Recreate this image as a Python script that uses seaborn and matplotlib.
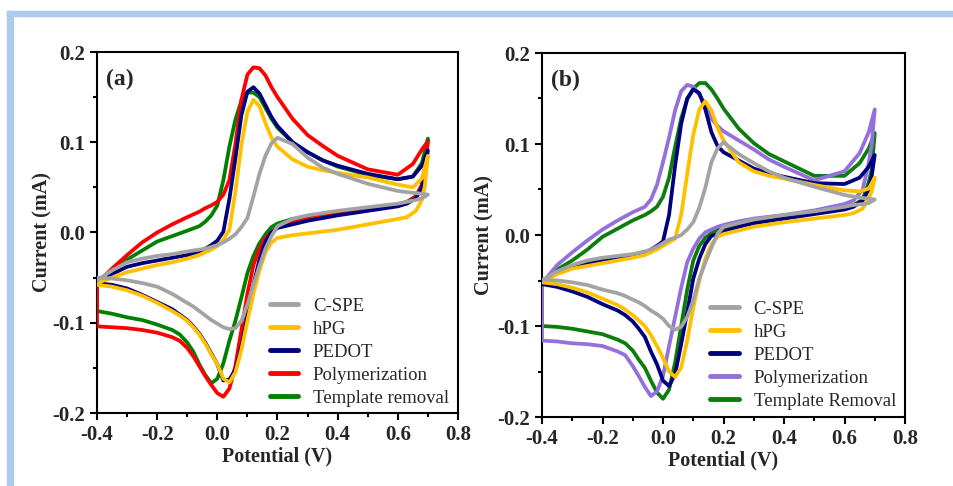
import matplotlib
matplotlib.use("Agg")
import matplotlib.pyplot as plt
from matplotlib.patches import Rectangle
from matplotlib.ticker import MultipleLocator, FormatStrFormatter
import pandas as pd
import seaborn as sns

# potential grid (V): forward scan, then reverse scan
E_FWD = [-0.4, -0.35, -0.3, -0.25, -0.2, -0.15, -0.1, -0.06, -0.04, -0.02,
         0.0, 0.02, 0.04, 0.06, 0.08, 0.1, 0.12, 0.14, 0.16, 0.18,
         0.2, 0.25, 0.3, 0.35, 0.4, 0.5, 0.6, 0.65, 0.68, 0.7]
E_REV = [0.7, 0.69, 0.68, 0.66, 0.63, 0.6, 0.5, 0.4, 0.3, 0.25,
         0.2, 0.18, 0.16, 0.14, 0.12, 0.1, 0.08, 0.06, 0.04, 0.02,
         0.0, -0.02, -0.04, -0.06, -0.08, -0.1, -0.125, -0.15, -0.2, -0.25,
         -0.3, -0.35, -0.4]

# ---- panel (a) currents (mA)
a_cspe_fwd = [-0.053, -0.042, -0.033, -0.029, -0.026, -0.024, -0.021, -0.019, -0.018, -0.016,
              -0.014, -0.011, -0.007, -0.002, 0.006, 0.016, 0.040, 0.065, 0.085, 0.099,
              0.105, 0.098, 0.083, 0.072, 0.065, 0.054, 0.046, 0.044, 0.043, 0.042]
a_cspe_rev = [0.042, 0.040, 0.038, 0.036, 0.034, 0.032, 0.028, 0.024, 0.019, 0.015,
              0.007, -0.004, -0.018, -0.037, -0.058, -0.080, -0.098, -0.106, -0.107, -0.105,
              -0.101, -0.097, -0.092, -0.087, -0.082, -0.078, -0.073, -0.068, -0.060, -0.056,
              -0.053, -0.051, -0.050]
a_hpg_fwd = [-0.056, -0.050, -0.044, -0.040, -0.036, -0.033, -0.029, -0.025, -0.022, -0.019,
             -0.015, -0.008, 0.003, 0.045, 0.097, 0.134, 0.147, 0.140, 0.121, 0.105,
             0.095, 0.081, 0.073, 0.069, 0.066, 0.061, 0.053, 0.050, 0.060, 0.085]
a_hpg_rev = [0.085, 0.052, 0.036, 0.024, 0.017, 0.015, 0.009, 0.003, -0.001, -0.003,
             -0.006, -0.011, -0.022, -0.042, -0.068, -0.098, -0.130, -0.155, -0.166, -0.162,
             -0.146, -0.135, -0.123, -0.113, -0.105, -0.098, -0.092, -0.087, -0.078, -0.070,
             -0.064, -0.060, -0.058]
a_pedot_fwd = [-0.055, -0.046, -0.038, -0.034, -0.031, -0.028, -0.025, -0.021, -0.018, -0.014,
               -0.009, 0.001, 0.037, 0.082, 0.130, 0.156, 0.161, 0.154, 0.141, 0.128,
               0.118, 0.100, 0.089, 0.080, 0.074, 0.065, 0.059, 0.062, 0.074, 0.091]
a_pedot_rev = [0.091, 0.068, 0.050, 0.038, 0.032, 0.029, 0.024, 0.019, 0.013, 0.009,
               0.005, 0.000, -0.010, -0.030, -0.058, -0.092, -0.126, -0.152, -0.163, -0.164,
               -0.146, -0.134, -0.122, -0.112, -0.104, -0.097, -0.091, -0.085, -0.077, -0.069,
               -0.062, -0.058, -0.056]
a_poly_fwd = [-0.056, -0.040, -0.025, -0.011, 0.000, 0.009, 0.017, 0.023, 0.027, 0.030,
              0.034, 0.042, 0.058, 0.098, 0.147, 0.175, 0.183, 0.182, 0.174, 0.161,
              0.150, 0.126, 0.108, 0.096, 0.085, 0.070, 0.064, 0.076, 0.092, 0.101]
a_poly_rev = [0.101, 0.072, 0.053, 0.040, 0.033, 0.030, 0.025, 0.020, 0.015, 0.011,
              0.006, 0.000, -0.006, -0.018, -0.036, -0.068, -0.108, -0.148, -0.173, -0.182,
              -0.178, -0.169, -0.159, -0.148, -0.137, -0.128, -0.120, -0.116, -0.111, -0.108,
              -0.106, -0.105, -0.104]
a_temp_fwd = [-0.056, -0.042, -0.030, -0.020, -0.010, -0.004, 0.002, 0.007, 0.012, 0.019,
              0.030, 0.058, 0.095, 0.125, 0.146, 0.155, 0.155, 0.150, 0.138, 0.126,
              0.116, 0.100, 0.089, 0.080, 0.073, 0.064, 0.059, 0.062, 0.077, 0.104]
a_temp_rev = [0.104, 0.070, 0.052, 0.040, 0.034, 0.031, 0.027, 0.022, 0.018, 0.015,
              0.010, 0.006, -0.002, -0.012, -0.026, -0.045, -0.072, -0.098, -0.120, -0.145,
              -0.162, -0.167, -0.158, -0.146, -0.132, -0.122, -0.113, -0.108, -0.102, -0.097,
              -0.094, -0.090, -0.087]

# ---- panel (b) currents (mA)
b_cspe_fwd = [-0.050, -0.040, -0.033, -0.028, -0.025, -0.023, -0.021, -0.018, -0.016, -0.013,
              -0.009, -0.005, -0.003, 0.000, 0.006, 0.014, 0.030, 0.052, 0.080, 0.095,
              0.102, 0.089, 0.079, 0.070, 0.063, 0.053, 0.044, 0.041, 0.040, 0.039]
b_cspe_rev = [0.039, 0.037, 0.035, 0.034, 0.033, 0.031, 0.026, 0.022, 0.017, 0.013,
              0.009, 0.001, -0.014, -0.030, -0.048, -0.072, -0.090, -0.101, -0.104, -0.100,
              -0.092, -0.087, -0.083, -0.078, -0.074, -0.071, -0.067, -0.064, -0.060, -0.055,
              -0.052, -0.050, -0.049]
b_hpg_fwd = [-0.052, -0.043, -0.037, -0.034, -0.031, -0.028, -0.025, -0.022, -0.019, -0.016,
             -0.012, -0.008, -0.004, 0.022, 0.067, 0.110, 0.138, 0.147, 0.137, 0.118,
             0.104, 0.080, 0.070, 0.065, 0.062, 0.055, 0.049, 0.048, 0.051, 0.063]
b_hpg_rev = [0.063, 0.048, 0.040, 0.029, 0.024, 0.022, 0.018, 0.014, 0.009, 0.005,
             0.001, -0.002, -0.010, -0.026, -0.050, -0.080, -0.116, -0.146, -0.156, -0.150,
             -0.135, -0.122, -0.110, -0.100, -0.094, -0.088, -0.082, -0.077, -0.070, -0.063,
             -0.058, -0.054, -0.052]
b_pedot_fwd = [-0.053, -0.041, -0.035, -0.031, -0.028, -0.026, -0.023, -0.020, -0.016, -0.012,
               -0.007, 0.022, 0.076, 0.122, 0.150, 0.160, 0.156, 0.138, 0.113, 0.098,
               0.091, 0.082, 0.073, 0.068, 0.064, 0.057, 0.056, 0.063, 0.075, 0.088]
b_pedot_rev = [0.088, 0.065, 0.050, 0.038, 0.031, 0.028, 0.023, 0.018, 0.013, 0.009,
               0.004, 0.001, -0.001, -0.010, -0.026, -0.048, -0.085, -0.120, -0.153, -0.166,
               -0.160, -0.142, -0.128, -0.112, -0.103, -0.095, -0.088, -0.083, -0.076, -0.068,
               -0.062, -0.057, -0.054]
b_poly_fwd = [-0.053, -0.033, -0.019, -0.006, 0.006, 0.016, 0.025, 0.031, 0.039, 0.055,
              0.080, 0.107, 0.137, 0.158, 0.165, 0.163, 0.154, 0.144, 0.128, 0.120,
              0.114, 0.104, 0.094, 0.083, 0.075, 0.060, 0.070, 0.090, 0.113, 0.138]
b_poly_rev = [0.138, 0.100, 0.079, 0.050, 0.038, 0.034, 0.027, 0.022, 0.018, 0.015,
              0.011, 0.009, 0.006, 0.003, -0.004, -0.015, -0.030, -0.058, -0.090, -0.122,
              -0.155, -0.172, -0.177, -0.167, -0.155, -0.144, -0.132, -0.128, -0.122, -0.120,
              -0.119, -0.117, -0.116]
b_temp_fwd = [-0.052, -0.038, -0.028, -0.016, -0.002, 0.007, 0.016, 0.022, 0.026, 0.031,
              0.042, 0.063, 0.097, 0.128, 0.149, 0.161, 0.167, 0.167, 0.160, 0.150,
              0.139, 0.117, 0.101, 0.089, 0.081, 0.065, 0.065, 0.079, 0.095, 0.112]
b_temp_rev = [0.112, 0.072, 0.058, 0.039, 0.033, 0.031, 0.026, 0.020, 0.015, 0.012,
              0.008, 0.006, 0.002, -0.003, -0.012, -0.028, -0.060, -0.100, -0.140, -0.170,
              -0.180, -0.173, -0.160, -0.146, -0.137, -0.127, -0.119, -0.115, -0.109, -0.106,
              -0.103, -0.101, -0.100]

labels_a = ["C-SPE", "hPG", "PEDOT", "Polymerization", "Template removal"]
labels_b = ["C-SPE", "hPG", "PEDOT", "Polymerization", "Template Removal"]
colors_a = ["#a3a3a3", "#ffc000", "#00007f", "#ff0000", "#008000"]
colors_b = ["#a3a3a3", "#ffc000", "#00007f", "#9370db", "#0b7d0b"]

curves_a = [(a_cspe_fwd, a_cspe_rev), (a_hpg_fwd, a_hpg_rev), (a_pedot_fwd, a_pedot_rev),
            (a_poly_fwd, a_poly_rev), (a_temp_fwd, a_temp_rev)]
curves_b = [(b_cspe_fwd, b_cspe_rev), (b_hpg_fwd, b_hpg_rev), (b_pedot_fwd, b_pedot_rev),
            (b_poly_fwd, b_poly_rev), (b_temp_fwd, b_temp_rev)]


def loop_frame(curves, labels):
    rows = []
    for (fwd, rev), lab in zip(curves, labels):
        # forward sweep, reverse sweep, then back to the start point
        pts = list(zip(E_FWD, fwd)) + list(zip(E_REV, rev)) + [(E_FWD[0], fwd[0])]
        for e, i in pts:
            rows.append((lab, e, i))
    return pd.DataFrame(rows, columns=["series", "E", "I"])


sns.set_style("ticks")
plt.rcParams['font.family'] = ['Liberation Serif', 'DejaVu Serif']
plt.rcParams['axes.unicode_minus'] = False

fig = plt.figure(figsize=(9.54, 4.86), dpi=100)
ax_a = fig.add_axes([97 / 954, 1 - 413 / 486, 361 / 954, 361 / 486])
ax_b = fig.add_axes([542 / 954, 1 - 417 / 486, 363 / 954, 364 / 486])

# light blue page frame (top and left)
fig.patches.append(Rectangle((7 / 954, 0), 6 / 954, 1 - 11 / 486, transform=fig.transFigure,
                             color="#aecbee", zorder=0))
fig.patches.append(Rectangle((7 / 954, 1 - 16 / 486), 1, 5 / 486, transform=fig.transFigure,
                             color="#aecbee", zorder=0))

panels = [(ax_a, curves_a, labels_a, colors_a, "(a)", (0.975, 0.018), -0.122),
          (ax_b, curves_b, labels_b, colors_b, "(b)", (0.975, 0.02), -0.132)]

for ax, curves, labels, colors, tag, leg_pos, ylab_x in panels:
    df = loop_frame(curves, labels)
    sns.lineplot(data=df, x="E", y="I", hue="series", hue_order=labels,
                 palette=colors, sort=False, estimator=None, linewidth=2.7,
                 legend=False, ax=ax)
    # grey on top, then the others in reverse legend order
    for ln, z in zip(ax.lines, [7, 6, 5, 4, 3]):
        ln.set_zorder(z)
        ln.set_solid_capstyle("round")
        ln.set_solid_joinstyle("round")

    ax.set_xlim(-0.4, 0.8)
    ax.set_ylim(-0.2, 0.2)
    ax.xaxis.set_major_locator(MultipleLocator(0.2))
    ax.xaxis.set_minor_locator(MultipleLocator(0.1))
    ax.yaxis.set_major_locator(MultipleLocator(0.1))
    ax.yaxis.set_minor_locator(MultipleLocator(0.05))
    ax.xaxis.set_major_formatter(FormatStrFormatter('%.1f'))
    ax.yaxis.set_major_formatter(FormatStrFormatter('%.1f'))
    ax.tick_params(which="major", direction="out", length=5, width=1.5, pad=3.5,
                   labelsize=15, color="black")
    ax.tick_params(which="minor", direction="out", length=3, width=1.5, color="black")
    for lab in ax.get_xticklabels() + ax.get_yticklabels():
        lab.set_fontweight("bold")
    for sp in ax.spines.values():
        sp.set_visible(True)
        sp.set_linewidth(1.5)
        sp.set_color("black")

    ax.set_xlabel("Potential (V)", fontsize=14.5, fontweight="bold", labelpad=1)
    ax.set_ylabel("Current (mA)", fontsize=14.5, fontweight="bold")
    ax.yaxis.set_label_coords(ylab_x, 0.5)
    ax.text(0.025, 0.925, tag, transform=ax.transAxes, fontsize=17,
            fontweight="bold", va="center", ha="left")

    leg = ax.legend(ax.lines[:5], labels, loc="lower right", bbox_to_anchor=leg_pos,
                    frameon=False, fontsize=13.5, handlelength=1.5, handletextpad=0.8,
                    labelspacing=0.31, borderpad=0, borderaxespad=0)
    for hl in leg.get_lines():
        hl.set_linewidth(3.5)

fig.savefig("out.png", dpi=100)
